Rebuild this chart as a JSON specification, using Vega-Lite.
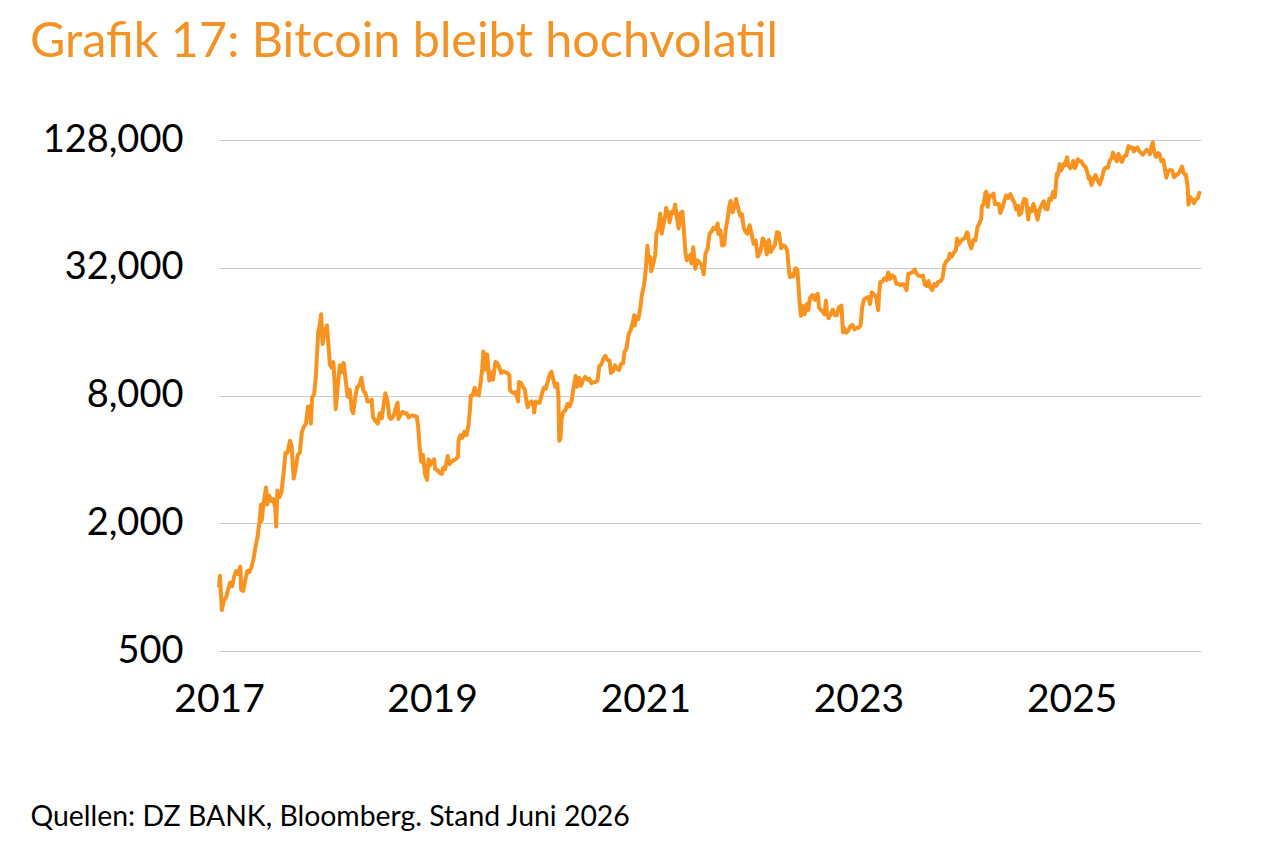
{
"$schema": "https://vega.github.io/schema/vega-lite/v6.json",
"width": 982, "height": 511,
"autosize": {"type": "none"},
"padding": {"left": 219, "top": 140, "right": 79, "bottom": 200},
"background": "white",
"title": {"text": "Grafik 17: Bitcoin bleibt hochvolatil", "anchor": "start", "frame": "group", "dx": -189, "offset": 54, "fontSize": 48.5, "font": "Lato", "fontWeight": "normal", "color": "#F39325"},
"data": {"values": [
{"d":"2017-01-01","p":998},{"d":"2017-01-04","p":1130},{"d":"2017-01-11","p":780},{"d":"2017-01-18","p":870},{"d":"2017-01-25","p":890},{"d":"2017-02-01","p":970},{"d":"2017-02-08","p":1050},{"d":"2017-02-15","p":1010},{"d":"2017-02-22","p":1120},{"d":"2017-03-01","p":1190},{"d":"2017-03-08","p":1150},{"d":"2017-03-15","p":1250},{"d":"2017-03-18","p":970},{"d":"2017-03-25","p":960},{"d":"2017-04-01","p":1080},{"d":"2017-04-08","p":1190},{"d":"2017-04-15","p":1180},{"d":"2017-04-22","p":1240},{"d":"2017-04-29","p":1350},{"d":"2017-05-06","p":1550},{"d":"2017-05-13","p":1720},{"d":"2017-05-20","p":2050},{"d":"2017-05-25","p":2450},{"d":"2017-05-27","p":2050},{"d":"2017-06-03","p":2500},{"d":"2017-06-11","p":2950},{"d":"2017-06-15","p":2450},{"d":"2017-06-22","p":2700},{"d":"2017-06-29","p":2550},{"d":"2017-07-06","p":2600},{"d":"2017-07-13","p":2350},{"d":"2017-07-16","p":1930},{"d":"2017-07-20","p":2850},{"d":"2017-07-27","p":2650},{"d":"2017-08-03","p":2800},{"d":"2017-08-10","p":3400},{"d":"2017-08-17","p":4300},{"d":"2017-08-24","p":4300},{"d":"2017-09-01","p":4900},{"d":"2017-09-07","p":4600},{"d":"2017-09-14","p":3250},{"d":"2017-09-21","p":3650},{"d":"2017-09-28","p":4200},{"d":"2017-10-05","p":4300},{"d":"2017-10-12","p":5400},{"d":"2017-10-19","p":5700},{"d":"2017-10-26","p":5900},{"d":"2017-11-02","p":7100},{"d":"2017-11-09","p":7100},{"d":"2017-11-12","p":5900},{"d":"2017-11-16","p":7800},{"d":"2017-11-23","p":8100},{"d":"2017-11-29","p":9900},{"d":"2017-12-07","p":16000},{"d":"2017-12-12","p":17000},{"d":"2017-12-17","p":19300},{"d":"2017-12-22","p":14000},{"d":"2017-12-27","p":15500},
{"d":"2018-01-06","p":17100},{"d":"2018-01-10","p":14500},{"d":"2018-01-16","p":11200},{"d":"2018-01-22","p":10800},{"d":"2018-01-28","p":11500},{"d":"2018-02-02","p":8800},{"d":"2018-02-05","p":6900},{"d":"2018-02-12","p":8900},{"d":"2018-02-19","p":11100},{"d":"2018-02-26","p":10300},{"d":"2018-03-04","p":11400},{"d":"2018-03-11","p":9500},{"d":"2018-03-18","p":7900},{"d":"2018-03-25","p":8500},{"d":"2018-04-01","p":6850},{"d":"2018-04-06","p":6600},{"d":"2018-04-13","p":7900},{"d":"2018-04-20","p":8800},{"d":"2018-04-27","p":8900},{"d":"2018-05-04","p":9700},{"d":"2018-05-11","p":8400},{"d":"2018-05-18","p":8200},{"d":"2018-05-25","p":7500},{"d":"2018-06-01","p":7500},{"d":"2018-06-08","p":7650},{"d":"2018-06-13","p":6300},{"d":"2018-06-22","p":6050},{"d":"2018-06-29","p":5900},{"d":"2018-07-06","p":6600},{"d":"2018-07-13","p":6250},{"d":"2018-07-20","p":7400},{"d":"2018-07-25","p":8200},{"d":"2018-08-01","p":7600},{"d":"2018-08-08","p":6300},{"d":"2018-08-14","p":6200},{"d":"2018-08-22","p":6400},{"d":"2018-08-30","p":7000},{"d":"2018-09-05","p":7400},{"d":"2018-09-08","p":6200},{"d":"2018-09-15","p":6500},{"d":"2018-09-22","p":6700},{"d":"2018-09-29","p":6600},{"d":"2018-10-06","p":6600},{"d":"2018-10-13","p":6300},{"d":"2018-10-20","p":6400},{"d":"2018-10-27","p":6450},{"d":"2018-11-03","p":6400},{"d":"2018-11-10","p":6350},{"d":"2018-11-15","p":5600},{"d":"2018-11-20","p":4500},{"d":"2018-11-25","p":3900},{"d":"2018-12-01","p":4200},{"d":"2018-12-08","p":3400},{"d":"2018-12-15","p":3200},{"d":"2018-12-20","p":4000},{"d":"2018-12-25","p":3750},
{"d":"2019-01-01","p":3900},{"d":"2019-01-08","p":4000},{"d":"2019-01-12","p":3600},{"d":"2019-01-20","p":3550},{"d":"2019-01-28","p":3450},{"d":"2019-02-04","p":3420},{"d":"2019-02-08","p":3650},{"d":"2019-02-15","p":3600},{"d":"2019-02-24","p":4150},{"d":"2019-03-01","p":3800},{"d":"2019-03-08","p":3900},{"d":"2019-03-15","p":3950},{"d":"2019-03-22","p":4000},{"d":"2019-03-31","p":4100},{"d":"2019-04-02","p":4900},{"d":"2019-04-08","p":5200},{"d":"2019-04-15","p":5050},{"d":"2019-04-22","p":5400},{"d":"2019-04-29","p":5200},{"d":"2019-05-06","p":5800},{"d":"2019-05-11","p":6900},{"d":"2019-05-14","p":8000},{"d":"2019-05-20","p":8000},{"d":"2019-05-27","p":8700},{"d":"2019-06-03","p":8100},{"d":"2019-06-10","p":8000},{"d":"2019-06-17","p":9300},{"d":"2019-06-22","p":10700},{"d":"2019-06-26","p":12900},{"d":"2019-06-29","p":11900},{"d":"2019-07-02","p":10600},{"d":"2019-07-09","p":12500},{"d":"2019-07-16","p":9400},{"d":"2019-07-22","p":10300},{"d":"2019-07-29","p":9500},{"d":"2019-08-06","p":11500},{"d":"2019-08-12","p":11400},{"d":"2019-08-19","p":10900},{"d":"2019-08-26","p":10200},{"d":"2019-09-02","p":10400},{"d":"2019-09-09","p":10300},{"d":"2019-09-16","p":10200},{"d":"2019-09-23","p":10000},{"d":"2019-09-25","p":8500},{"d":"2019-10-01","p":8300},{"d":"2019-10-08","p":8200},{"d":"2019-10-15","p":8300},{"d":"2019-10-23","p":7500},{"d":"2019-10-26","p":9250},{"d":"2019-11-01","p":9200},{"d":"2019-11-08","p":8800},{"d":"2019-11-15","p":8500},{"d":"2019-11-22","p":7300},{"d":"2019-11-25","p":7050},{"d":"2019-12-01","p":7400},{"d":"2019-12-08","p":7500},{"d":"2019-12-15","p":7100},{"d":"2019-12-17","p":6650},{"d":"2019-12-22","p":7500},{"d":"2019-12-29","p":7400},
{"d":"2020-01-05","p":7400},{"d":"2020-01-12","p":8100},{"d":"2020-01-19","p":8700},{"d":"2020-01-26","p":8600},{"d":"2020-02-02","p":9350},{"d":"2020-02-09","p":10100},{"d":"2020-02-14","p":10350},{"d":"2020-02-20","p":9600},{"d":"2020-02-27","p":8800},{"d":"2020-03-05","p":9100},{"d":"2020-03-09","p":7900},{"d":"2020-03-12","p":4900},{"d":"2020-03-16","p":5000},{"d":"2020-03-20","p":6200},{"d":"2020-03-26","p":6700},{"d":"2020-04-02","p":6800},{"d":"2020-04-09","p":7300},{"d":"2020-04-16","p":7100},{"d":"2020-04-23","p":7500},{"d":"2020-04-30","p":8700},{"d":"2020-05-07","p":9900},{"d":"2020-05-12","p":8800},{"d":"2020-05-19","p":9700},{"d":"2020-05-26","p":8900},{"d":"2020-06-02","p":9500},{"d":"2020-06-09","p":9800},{"d":"2020-06-16","p":9500},{"d":"2020-06-23","p":9600},{"d":"2020-06-30","p":9150},{"d":"2020-07-07","p":9250},{"d":"2020-07-14","p":9250},{"d":"2020-07-21","p":9400},{"d":"2020-07-27","p":11000},{"d":"2020-08-03","p":11200},{"d":"2020-08-10","p":11900},{"d":"2020-08-17","p":12300},{"d":"2020-08-24","p":11750},{"d":"2020-08-31","p":11700},{"d":"2020-09-05","p":10200},{"d":"2020-09-12","p":10400},{"d":"2020-09-19","p":11100},{"d":"2020-09-26","p":10700},{"d":"2020-10-03","p":10550},{"d":"2020-10-10","p":11300},{"d":"2020-10-17","p":11350},{"d":"2020-10-21","p":12800},{"d":"2020-10-28","p":13300},{"d":"2020-11-05","p":15600},{"d":"2020-11-12","p":16300},{"d":"2020-11-19","p":17800},{"d":"2020-11-24","p":19100},{"d":"2020-11-26","p":17100},{"d":"2020-12-01","p":18800},{"d":"2020-12-08","p":18300},{"d":"2020-12-16","p":21300},{"d":"2020-12-20","p":23800},{"d":"2020-12-27","p":26300},{"d":"2020-12-31","p":29000},
{"d":"2021-01-03","p":32000},{"d":"2021-01-08","p":40600},{"d":"2021-01-11","p":35500},{"d":"2021-01-17","p":36000},{"d":"2021-01-21","p":30800},{"d":"2021-01-28","p":33400},{"d":"2021-02-04","p":36900},{"d":"2021-02-08","p":46400},{"d":"2021-02-14","p":48700},{"d":"2021-02-21","p":57500},{"d":"2021-02-26","p":46300},{"d":"2021-03-03","p":50500},{"d":"2021-03-10","p":55900},{"d":"2021-03-13","p":61200},{"d":"2021-03-20","p":58100},{"d":"2021-03-25","p":52300},{"d":"2021-04-01","p":58700},{"d":"2021-04-08","p":58000},{"d":"2021-04-13","p":63500},{"d":"2021-04-18","p":56200},{"d":"2021-04-25","p":49000},{"d":"2021-05-01","p":57800},{"d":"2021-05-08","p":58800},{"d":"2021-05-12","p":50000},{"d":"2021-05-19","p":37000},{"d":"2021-05-23","p":34700},{"d":"2021-05-28","p":35700},{"d":"2021-06-04","p":36800},{"d":"2021-06-08","p":33500},{"d":"2021-06-14","p":40000},{"d":"2021-06-21","p":31600},{"d":"2021-06-28","p":34700},{"d":"2021-07-05","p":33900},{"d":"2021-07-12","p":33100},{"d":"2021-07-20","p":29800},{"d":"2021-07-26","p":37300},{"d":"2021-08-02","p":39200},{"d":"2021-08-09","p":46300},{"d":"2021-08-14","p":47000},{"d":"2021-08-22","p":49300},{"d":"2021-08-29","p":48800},{"d":"2021-09-06","p":51700},{"d":"2021-09-08","p":46100},{"d":"2021-09-15","p":48100},{"d":"2021-09-21","p":40700},{"d":"2021-09-28","p":41000},{"d":"2021-10-04","p":49200},{"d":"2021-10-10","p":54700},{"d":"2021-10-15","p":61500},{"d":"2021-10-20","p":66000},{"d":"2021-10-27","p":58400},{"d":"2021-11-03","p":62900},{"d":"2021-11-08","p":67500},{"d":"2021-11-10","p":64900},{"d":"2021-11-16","p":60300},{"d":"2021-11-22","p":56300},{"d":"2021-11-28","p":57200},{"d":"2021-12-04","p":49400},{"d":"2021-12-10","p":47200},{"d":"2021-12-17","p":46200},{"d":"2021-12-24","p":50800},{"d":"2021-12-31","p":46300},
{"d":"2022-01-07","p":41500},{"d":"2022-01-14","p":43000},{"d":"2022-01-21","p":36200},{"d":"2022-01-24","p":36600},{"d":"2022-01-31","p":38500},{"d":"2022-02-07","p":44000},{"d":"2022-02-14","p":42500},{"d":"2022-02-21","p":37000},{"d":"2022-02-28","p":43200},{"d":"2022-03-07","p":38000},{"d":"2022-03-14","p":39600},{"d":"2022-03-21","p":41000},{"d":"2022-03-28","p":47100},{"d":"2022-04-04","p":46600},{"d":"2022-04-11","p":39500},{"d":"2022-04-18","p":40800},{"d":"2022-04-25","p":40400},{"d":"2022-05-02","p":38500},{"d":"2022-05-09","p":30100},{"d":"2022-05-12","p":28900},{"d":"2022-05-16","p":29800},{"d":"2022-05-23","p":29100},{"d":"2022-05-30","p":31800},{"d":"2022-06-06","p":31400},{"d":"2022-06-13","p":22500},{"d":"2022-06-18","p":19000},{"d":"2022-06-24","p":21200},{"d":"2022-07-01","p":19300},{"d":"2022-07-08","p":21600},{"d":"2022-07-13","p":20200},{"d":"2022-07-20","p":23200},{"d":"2022-07-28","p":23800},{"d":"2022-08-04","p":22600},{"d":"2022-08-11","p":23900},{"d":"2022-08-15","p":24100},{"d":"2022-08-19","p":20800},{"d":"2022-08-26","p":20200},{"d":"2022-09-02","p":19800},{"d":"2022-09-07","p":19300},{"d":"2022-09-12","p":22400},{"d":"2022-09-15","p":19700},{"d":"2022-09-21","p":18500},{"d":"2022-09-28","p":19400},{"d":"2022-10-05","p":20300},{"d":"2022-10-12","p":19100},{"d":"2022-10-19","p":19100},{"d":"2022-10-26","p":20800},{"d":"2022-11-04","p":21200},{"d":"2022-11-09","p":15900},{"d":"2022-11-14","p":16600},{"d":"2022-11-21","p":15800},{"d":"2022-11-28","p":16200},{"d":"2022-12-05","p":17000},{"d":"2022-12-12","p":17200},{"d":"2022-12-19","p":16400},{"d":"2022-12-26","p":16700},
{"d":"2023-01-02","p":16700},{"d":"2023-01-09","p":17200},{"d":"2023-01-14","p":20900},{"d":"2023-01-21","p":22800},{"d":"2023-01-28","p":23000},{"d":"2023-02-04","p":23300},{"d":"2023-02-10","p":21600},{"d":"2023-02-16","p":24500},{"d":"2023-02-23","p":23900},{"d":"2023-03-02","p":23500},{"d":"2023-03-10","p":20200},{"d":"2023-03-13","p":24100},{"d":"2023-03-17","p":27400},{"d":"2023-03-24","p":27500},{"d":"2023-03-31","p":28500},{"d":"2023-04-07","p":28000},{"d":"2023-04-13","p":30400},{"d":"2023-04-20","p":28300},{"d":"2023-04-27","p":29500},{"d":"2023-05-04","p":29000},{"d":"2023-05-11","p":26900},{"d":"2023-05-18","p":26800},{"d":"2023-05-25","p":26500},{"d":"2023-06-01","p":26800},{"d":"2023-06-08","p":26500},{"d":"2023-06-15","p":25100},{"d":"2023-06-21","p":30000},{"d":"2023-06-28","p":30100},{"d":"2023-07-05","p":30500},{"d":"2023-07-13","p":31400},{"d":"2023-07-20","p":29900},{"d":"2023-07-27","p":29300},{"d":"2023-08-03","p":29200},{"d":"2023-08-10","p":29400},{"d":"2023-08-17","p":26600},{"d":"2023-08-24","p":26200},{"d":"2023-08-29","p":27700},{"d":"2023-09-05","p":25800},{"d":"2023-09-11","p":25100},{"d":"2023-09-18","p":26800},{"d":"2023-09-25","p":26300},{"d":"2023-10-02","p":27500},{"d":"2023-10-09","p":27600},{"d":"2023-10-16","p":28500},{"d":"2023-10-23","p":33000},{"d":"2023-10-30","p":34500},{"d":"2023-11-06","p":35000},{"d":"2023-11-10","p":37300},{"d":"2023-11-17","p":36100},{"d":"2023-11-24","p":37700},{"d":"2023-12-01","p":38700},{"d":"2023-12-05","p":44000},{"d":"2023-12-11","p":41200},{"d":"2023-12-18","p":42700},{"d":"2023-12-25","p":43600},
{"d":"2024-01-01","p":44200},{"d":"2024-01-08","p":47000},{"d":"2024-01-11","p":46600},{"d":"2024-01-15","p":42500},{"d":"2024-01-23","p":39500},{"d":"2024-01-30","p":43300},{"d":"2024-02-06","p":43000},{"d":"2024-02-13","p":49700},{"d":"2024-02-20","p":52000},{"d":"2024-02-26","p":54500},{"d":"2024-02-28","p":62500},{"d":"2024-03-05","p":63800},{"d":"2024-03-11","p":72100},{"d":"2024-03-14","p":73100},{"d":"2024-03-19","p":62000},{"d":"2024-03-25","p":70000},{"d":"2024-04-01","p":69700},{"d":"2024-04-08","p":71600},{"d":"2024-04-13","p":63800},{"d":"2024-04-19","p":64000},{"d":"2024-04-26","p":64000},{"d":"2024-05-01","p":58000},{"d":"2024-05-08","p":61000},{"d":"2024-05-15","p":66000},{"d":"2024-05-21","p":70100},{"d":"2024-05-28","p":68300},{"d":"2024-06-05","p":71100},{"d":"2024-06-12","p":67300},{"d":"2024-06-19","p":64900},{"d":"2024-06-24","p":60300},{"d":"2024-07-01","p":62700},{"d":"2024-07-05","p":56700},{"d":"2024-07-12","p":57900},{"d":"2024-07-17","p":64000},{"d":"2024-07-22","p":67500},{"d":"2024-07-29","p":66800},{"d":"2024-08-05","p":54000},{"d":"2024-08-09","p":60900},{"d":"2024-08-16","p":59000},{"d":"2024-08-23","p":64000},{"d":"2024-08-30","p":59000},{"d":"2024-09-06","p":53900},{"d":"2024-09-13","p":60500},{"d":"2024-09-20","p":63200},{"d":"2024-09-27","p":65800},{"d":"2024-10-03","p":60700},{"d":"2024-10-10","p":60300},{"d":"2024-10-16","p":67600},{"d":"2024-10-23","p":67000},{"d":"2024-10-29","p":72700},{"d":"2024-11-04","p":68800},{"d":"2024-11-07","p":76000},{"d":"2024-11-11","p":88700},{"d":"2024-11-14","p":87000},{"d":"2024-11-21","p":98500},{"d":"2024-11-26","p":91900},{"d":"2024-12-05","p":98800},{"d":"2024-12-09","p":97400},{"d":"2024-12-16","p":106000},{"d":"2024-12-20","p":97500},{"d":"2024-12-27","p":94200},
{"d":"2025-01-02","p":96900},{"d":"2025-01-06","p":102000},{"d":"2025-01-10","p":94700},{"d":"2025-01-13","p":94500},{"d":"2025-01-20","p":102000},{"d":"2025-01-22","p":103700},{"d":"2025-01-27","p":102000},{"d":"2025-02-03","p":101400},{"d":"2025-02-10","p":97400},{"d":"2025-02-17","p":95800},{"d":"2025-02-25","p":88700},{"d":"2025-02-28","p":84300},{"d":"2025-03-03","p":86000},{"d":"2025-03-10","p":78600},{"d":"2025-03-17","p":84000},{"d":"2025-03-24","p":87500},{"d":"2025-03-31","p":82500},{"d":"2025-04-07","p":79200},{"d":"2025-04-14","p":84500},{"d":"2025-04-22","p":93500},{"d":"2025-04-28","p":95000},{"d":"2025-05-05","p":94700},{"d":"2025-05-12","p":102800},{"d":"2025-05-19","p":105600},{"d":"2025-05-22","p":111700},{"d":"2025-05-29","p":105600},{"d":"2025-06-05","p":101500},{"d":"2025-06-10","p":110200},{"d":"2025-06-17","p":104600},{"d":"2025-06-22","p":100900},{"d":"2025-06-30","p":107100},{"d":"2025-07-07","p":108200},{"d":"2025-07-14","p":119800},{"d":"2025-07-21","p":117400},{"d":"2025-07-28","p":118000},{"d":"2025-08-02","p":113000},{"d":"2025-08-08","p":116700},{"d":"2025-08-14","p":118300},{"d":"2025-08-20","p":113500},{"d":"2025-08-27","p":111200},{"d":"2025-09-01","p":109200},{"d":"2025-09-08","p":112000},{"d":"2025-09-15","p":115300},{"d":"2025-09-22","p":112700},{"d":"2025-09-26","p":109700},{"d":"2025-10-02","p":120600},{"d":"2025-10-06","p":124700},{"d":"2025-10-10","p":113200},{"d":"2025-10-17","p":106400},{"d":"2025-10-24","p":111000},{"d":"2025-10-29","p":110000},{"d":"2025-11-04","p":101600},{"d":"2025-11-11","p":103000},{"d":"2025-11-17","p":92200},{"d":"2025-11-21","p":85000},{"d":"2025-11-27","p":91300},{"d":"2025-12-04","p":92500},{"d":"2025-12-11","p":92000},{"d":"2025-12-18","p":85500},{"d":"2025-12-25","p":87500},
{"d":"2026-01-01","p":88700},{"d":"2026-01-07","p":91300},{"d":"2026-01-14","p":96000},{"d":"2026-01-20","p":89000},{"d":"2026-01-27","p":88000},{"d":"2026-02-02","p":78000},{"d":"2026-02-05","p":63500},{"d":"2026-02-10","p":69000},{"d":"2026-02-17","p":67500},{"d":"2026-02-24","p":64500},{"d":"2026-03-02","p":67000},{"d":"2026-03-09","p":68000},{"d":"2026-03-16","p":73500}
]},
"mark": {"type": "line", "color": "#F7931E", "strokeWidth": 4, "strokeJoin": "round"},
"encoding": {
"x": {"field": "d", "type": "temporal",
 "scale": {"domain": [{"year": 2017, "month": 1, "date": 1}, {"year": 2026, "month": 3, "date": 20}], "nice": false},
 "axis": {"values": [{"year": 2017}, {"year": 2019}, {"year": 2021}, {"year": 2023}, {"year": 2025}], "format": "%Y", "labelFont": "Lato", "labelFontSize": 39, "labelColor": "#000000", "labelFlush": false, "labelOverlap": false, "labelPadding": 29, "grid": false, "ticks": false, "domain": false,
  "title": "Quellen: DZ BANK, Bloomberg. Stand Juni 2026", "titleFont": "Lato", "titleFontSize": 28.4, "titleFontWeight": "normal", "titleColor": "#000000", "titleAlign": "left", "titleAnchor": "start", "titleBaseline": "alphabetic", "titleX": -189, "titleY": 174}},
"y": {"field": "p", "type": "quantitative",
 "scale": {"type": "log", "base": 2, "domain": [500, 128000], "nice": false},
 "axis": {"values": [500, 2000, 8000, 32000, 128000], "format": ",d", "labelFont": "Lato", "labelFontSize": 38, "labelColor": "#000000", "labelPadding": 36, "grid": true, "gridColor": "#cccccc", "gridWidth": 1, "ticks": false, "domain": false, "title": null}}
},
"config": {"view": {"stroke": null}}
}
